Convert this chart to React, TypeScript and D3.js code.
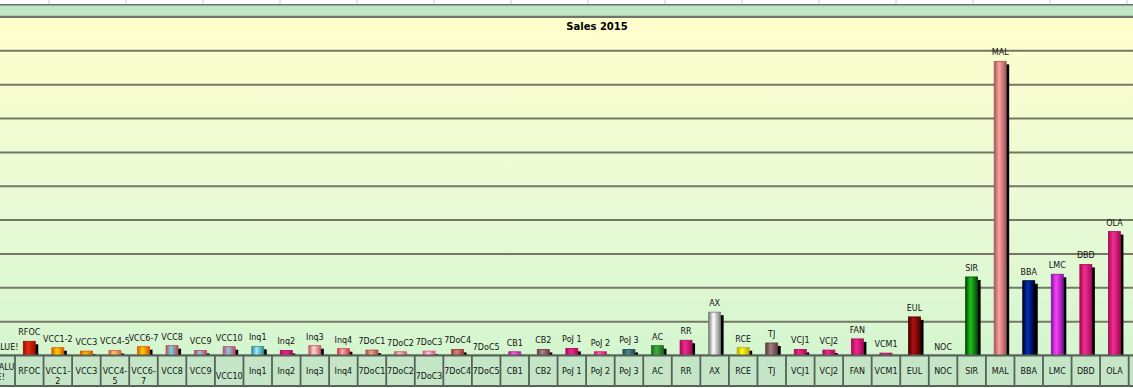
import React from "react";
import * as d3 from "d3";

const categories = [
  "#VALUE!", "RFOC", "VCC1-2", "VCC3", "VCC4-5", "VCC6-7", "VCC8", "VCC9", "VCC10",
  "Inq1", "Inq2", "Inq3", "Inq4", "7DoC1", "7DoC2", "7DoC3", "7DoC4", "7DoC5",
  "CB1", "CB2", "PoJ 1", "PoJ 2", "PoJ 3", "AC", "RR", "AX", "RCE", "TJ",
  "VCJ1", "VCJ2", "FAN", "VCM1", "EUL", "NOC", "SIR", "MAL", "BBA", "LMC", "DBD", "OLA", "",
];

const values = [
  0, 4.2, 2.3, 1.3, 1.5, 2.6, 2.9, 1.5, 2.6,
  2.7, 1.5, 2.9, 2.0, 1.6, 1.1, 1.3, 1.8, 0,
  1.1, 1.8, 2.1, 1.1, 1.8, 2.9, 4.5, 12.8, 2.3, 3.7,
  1.8, 1.6, 4.9, 0.7, 11.4, 0, 23.2, 86.9, 22.1, 24.0, 26.9, 36.6, NaN,
];

// axis cell labels (wrapped lines as displayed)
const axisLabelLines = [
  ["#VALU", "E!"], ["RFOC"], ["VCC1-", "2"], ["VCC3"], ["VCC4-", "5"], ["VCC6-", "7"], ["VCC8"], ["VCC9"], ["VCC10"],
  ["Inq1"], ["Inq2"], ["Inq3"], ["Inq4"], ["7DoC1"], ["7DoC2"], ["7DoC3"], ["7DoC4"], ["7DoC5"],
  ["CB1"], ["CB2"], ["PoJ 1"], ["PoJ 2"], ["PoJ 3"], ["AC"], ["RR"], ["AX"], ["RCE"], ["TJ"],
  ["VCJ1"], ["VCJ2"], ["FAN"], ["VCM1"], ["EUL"], ["NOC"], ["SIR"], ["MAL"], ["BBA"], ["LMC"], ["DBD"], ["OLA"], [""],
];
const axisLabelDy = [
  -4, 0, 0, 0, 0, 0, 0, 0, 5,
  0, 0, 0, 0, 0, 0, 5, 0, 0,
  0, 0, 0, 0, 0, 0, 0, 0, 0, 0,
  0, 0, 0, 0, 0, 0, 0, 0, 0, 0, 0, 0, 0,
];

// [edge colour, centre colour]
const barColors: [string, string][] = [
  ["#a00a00", "#e02808"], ["#a00a00", "#e03010"], ["#d85800", "#ffd000"], ["#d85800", "#ffc000"],
  ["#c86040", "#ffc860"], ["#d85800", "#ffd000"], ["#b84858", "#70d8e8"], ["#c04060", "#90c8e0"],
  ["#b84868", "#90c8e0"], ["#3a8898", "#90f0f0"], ["#a80858", "#f02890"], ["#c05858", "#ffd8d8"],
  ["#c83848", "#ffb0b0"], ["#a84848", "#f0a888"], ["#c85868", "#ffc8c8"], ["#d85888", "#ffc8e8"],
  ["#983838", "#e08080"], ["#983838", "#e08080"], ["#b818a0", "#ff60e0"], ["#683838", "#b08888"],
  ["#a80858", "#f02890"], ["#c01868", "#ff60a8"], ["#204850", "#508890"], ["#1a6a1a", "#40b040"],
  ["#a80858", "#f02890"], ["#7a7a7a", "#ffffff"], ["#b8a800", "#ffff20"], ["#5a3a3a", "#a88080"],
  ["#a80858", "#f02890"], ["#a80858", "#f02890"], ["#a80858", "#f02890"], ["#a80858", "#f02890"],
  ["#4a0000", "#b01010"], ["#4a0000", "#b01010"], ["#004a00", "#20c020"], ["#a05858", "#ffa0a0"],
  ["#000020", "#0030b8"], ["#7a1898", "#ff40ff"], ["#a80858", "#f03090"], ["#a80858", "#f03090"],
  ["#888888", "#ffffff"],
];

const yTicks = [0, 10, 20, 30, 40, 50, 60, 70, 80, 90, 100];
const sheetColumns = d3.range(0, 15);

const W = 1133;
const H = 388;
const PLOT_TOP = 17;
const BASE = 355.5;
const BAND_BOTTOM = 386;
const BAND = 28.556;
const X0 = 15 - BAND;

export default function App() {
  const x = d3
    .scaleBand<string>()
    .domain(categories.map((c, i) => String(i)))
    .range([X0, X0 + BAND * categories.length])
    .padding(0);
  const y = d3.scaleLinear().domain([0, 100]).range([BASE, PLOT_TOP]);
  const barW = 12;
  const font = "'DejaVu Sans', Verdana, sans-serif";

  return (
    <svg
      width={W}
      height={H}
      style={{ position: "fixed", left: 0, top: 0, display: "block" }}
      fontFamily={font}
    >
      <defs>
        <linearGradient id="bg" x1="0" y1="0" x2="0" y2="1">
          <stop offset="0%" stopColor="#ffffcc" />
          <stop offset="55%" stopColor="#eafad6" />
          <stop offset="100%" stopColor="#d4f6cf" />
        </linearGradient>
        {barColors.map(([e, c], i) => (
          <linearGradient key={i} id={`bar${i}`} x1="0" y1="0" x2="1" y2="0">
            <stop offset="0%" stopColor={e} />
            <stop offset="40%" stopColor={c} />
            <stop offset="100%" stopColor={e} />
          </linearGradient>
        ))}
      </defs>
      <rect x={0} y={0} width={W} height={H} fill="#ffffff" />
      {/* spreadsheet strip */}
      {sheetColumns.map((k) => (
        <line key={k} x1={49 + 77 * k} x2={49 + 77 * k} y1={0} y2={5} stroke="#c8c8c8" strokeWidth={1} />
      ))}
      <rect x={0} y={5} width={W} height={11.5} fill="#c0e6c5" />
      <line x1={0} x2={W} y1={4.8} y2={4.8} stroke="#707070" strokeWidth={1.5} />
      {/* plot */}
      <rect x={0} y={PLOT_TOP} width={W} height={BASE - PLOT_TOP} fill="url(#bg)" />
      {yTicks.map((t) => (
        <line key={t} x1={0} x2={W} y1={y(t)} y2={y(t)} stroke="#747866" strokeWidth={2} />
      ))}
      <line x1={0} x2={W} y1={16.5} y2={16.5} stroke="#6e746e" strokeWidth={1.5} />
      <text x={597} y={30} textAnchor="middle" fontSize={10} fontWeight="bold" fill="#000">
        Sales 2015
      </text>
      {/* bars */}
      {categories.map((c, i) => {
        const v = values[i];
        if (!c || isNaN(v)) return null;
        const cx = (x(String(i)) as number) + x.bandwidth() / 2;
        const top = y(v);
        const h = BASE - top;
        return (
          <g key={i}>
            {h > 0 && (
              <>
                <rect x={cx - barW / 2 + 3} y={top + 3} width={barW} height={Math.max(0, h - 3)} fill="#000" />
                <rect
                  x={cx - barW / 2}
                  y={top}
                  width={barW}
                  height={h}
                  fill={`url(#bar${i})`}
                  stroke={barColors[i][0]}
                  strokeWidth={0.8}
                />
              </>
            )}
            <text x={cx} y={top - 6} textAnchor="middle" fontSize={8} fill="#111">
              {c}
            </text>
          </g>
        );
      })}
      {/* category cells */}
      <rect x={0} y={BASE} width={W} height={BAND_BOTTOM - BASE} fill="#c4e6c6" />
      {categories.map((c, i) => {
        const left = x(String(i)) as number;
        const cx = left + x.bandwidth() / 2;
        const lines = axisLabelLines[i];
        return (
          <g key={i}>
            <line x1={left} x2={left} y1={BASE} y2={BAND_BOTTOM} stroke="#56625a" strokeWidth={1.8} />
            {lines.map((ln, j) => (
              <text
                key={j}
                x={cx}
                y={371.5 + axisLabelDy[i] + j * 10}
                textAnchor="middle"
                dominantBaseline="central"
                fontSize={8}
                fill="#111"
              >
                {ln}
              </text>
            ))}
          </g>
        );
      })}
      <line x1={0} x2={W} y1={BASE} y2={BASE} stroke="#56625a" strokeWidth={2} />
      <line x1={0} x2={W} y1={BAND_BOTTOM} y2={BAND_BOTTOM} stroke="#56625a" strokeWidth={2} />
    </svg>
  );
}
